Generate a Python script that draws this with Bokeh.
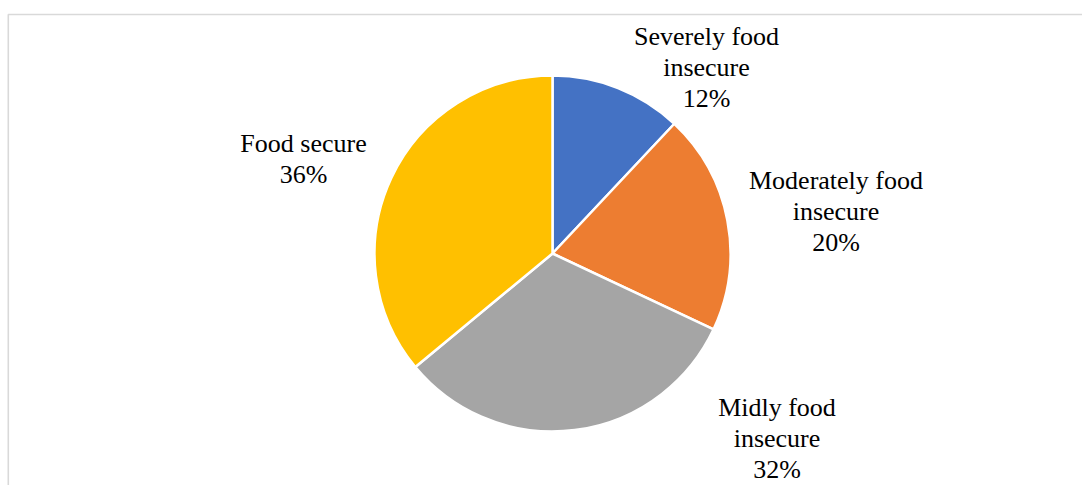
import math
from bokeh.plotting import figure
from bokeh.models import Range1d, ColumnDataSource
from bokeh.core.properties import value
from bokeh.embed import file_html
from bokeh.resources import INLINE

# ---- data ----
categories = ["Severely food insecure", "Moderately food insecure", "Midly food insecure", "Food secure"]
label_lines = ["Severely food\ninsecure", "Moderately food\ninsecure", "Midly food\ninsecure", "Food secure"]
shares = [12, 20, 32, 36]
colors = ["#4472C4", "#ED7D31", "#A5A5A5", "#FFC000"]

W, H = 1082, 485

def sy(y):
    return H - y

p = figure(width=W, height=H, output_backend="svg", toolbar_location=None,
           x_range=Range1d(0, W), y_range=Range1d(0, H), min_border=0)
p.axis.visible = False
p.grid.visible = False
p.outline_line_color = None
p.background_fill_color = "white"
p.border_fill_color = "white"

# frame border (top and left only visible)
p.line(x=[7.8, 7.8, W + 5], y=[sy(H + 5), sy(14), sy(14)], line_color="#D9D9D9", line_width=1.6)

total = sum(shares)
starts, ends = [], []
cum = 0.0
for v in shares:
    starts.append(math.pi / 2 - 2 * math.pi * cum / total)
    cum += v
    ends.append(math.pi / 2 - 2 * math.pi * cum / total)

cx, cy, r = 552, sy(253), 178
src = ColumnDataSource(dict(start=starts, end=ends, color=colors, cat=categories))
p.wedge(x=cx, y=cy, radius=r, radius_units="screen", start_angle="start", end_angle="end",
        direction="clock", fill_color="color", line_color="white", line_width=2.5, source=src)

# labels
label_pos = [(706, 67), (835.5, 211), (776.5, 438), (303, 158.5)]
texts = [f"{l}\n{v}%" for l, v in zip(label_lines, shares)]
lsrc = ColumnDataSource(dict(x=[a for a, b in label_pos], y=[sy(b) for a, b in label_pos], t=texts))
p.text(x="x", y="y", text="t", source=lsrc, text_align="center", text_baseline="middle",
       text_font=value("Liberation Serif"), text_font_size="26px", text_color="#000000",
       text_line_height=1.08)

open("out.html", "w").write(file_html(p, INLINE))
